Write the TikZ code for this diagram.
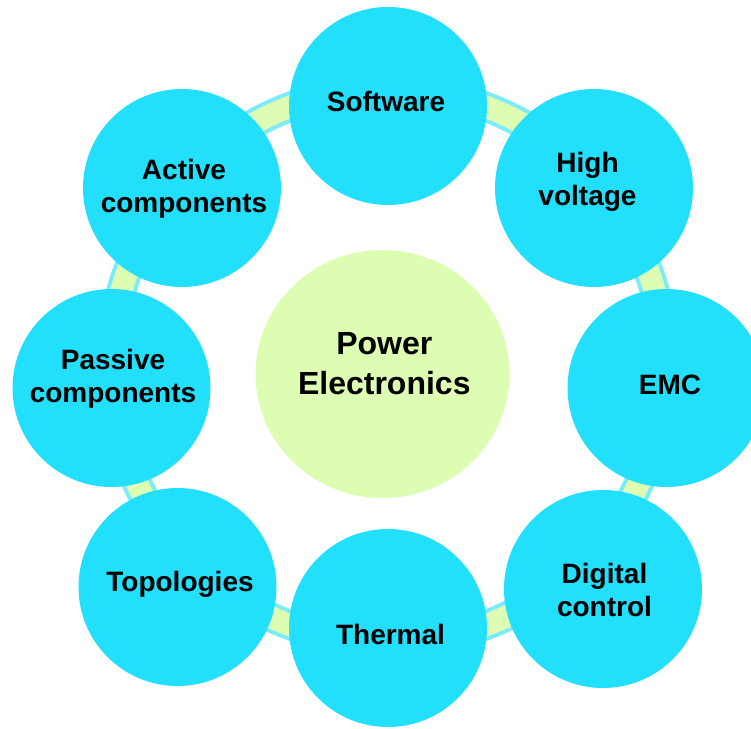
\documentclass[tikz,border=0pt]{standalone}
\usepackage{fontspec}
\setmainfont{Liberation Sans}
\usepackage{tikz}
\usetikzlibrary{shapes.geometric}
\definecolor{topiccyan}{RGB}{34,223,252}
\definecolor{hubgreen}{RGB}{221,253,179}
\definecolor{ringcyan}{RGB}{125,235,252}
\tikzset{every picture/.append style={x=1pt,y=-1pt}}
\tikzset{topic/.style={circle,fill=topiccyan,minimum size=198pt,inner sep=0pt}}
\tikzset{hub/.style={ellipse,fill=hubgreen,minimum width=254pt,minimum height=248pt,inner sep=0pt}}
\tikzset{topictext/.style={align=center,inner sep=0pt,font=\fontsize{28}{33}\selectfont\bfseries}}
\tikzset{hubtext/.style={align=center,inner sep=0pt,font=\fontsize{32}{40}\selectfont\bfseries}}
\tikzset{ringedge/.style={line width=30pt, ringcyan}}
\tikzset{ringflow/.style={line width=22pt, hubgreen}}

\begin{document}
\begin{tikzpicture}
\useasboundingbox (0,0) rectangle (751,728);
\clip (0,0) rectangle (751,728);

%the ring behind the topics
\coordinate (mid) at (388,366);
\draw[ringedge] (mid) circle[radius=277pt];
\draw[ringflow] (mid) circle[radius=277pt];

\node (pe) at (382.5,374)[hub]{};
\node (sw) at (388,106)[topic]{};
\node (hv) at (594,188)[topic]{};
\node (emc) at (666.5,388)[topic]{};
\node (dc) at (603,589)[topic]{};
\node (th) at (388,628)[topic]{};
\node (to) at (177.5,587)[topic]{};
\node (pas) at (111.5,388)[topic]{};
\node (act) at (182,188)[topic]{};

%now the texts
\node (pe-t) at (384.3,364)[hubtext]{Power\\Electronics};
\node (sw-t) at (386,101)[topictext]{Software};
\node (hv-t) at (587.5,182)[topictext]{High\\voltage};
\node (emc-t) at (670,385)[topictext]{EMC};
\node (dc-t) at (604.5,590)[topictext]{Digital\\control};
\node (th-t) at (390.5,634)[topictext]{Thermal};
\node (to-t) at (180,584)[topictext]{Topologies};
\node (pas-t) at (113,378.5)[topictext]{Passive\\components};
\node (act-t) at (184,188.5)[topictext]{Active\\components};

\end{tikzpicture}
\end{document}
